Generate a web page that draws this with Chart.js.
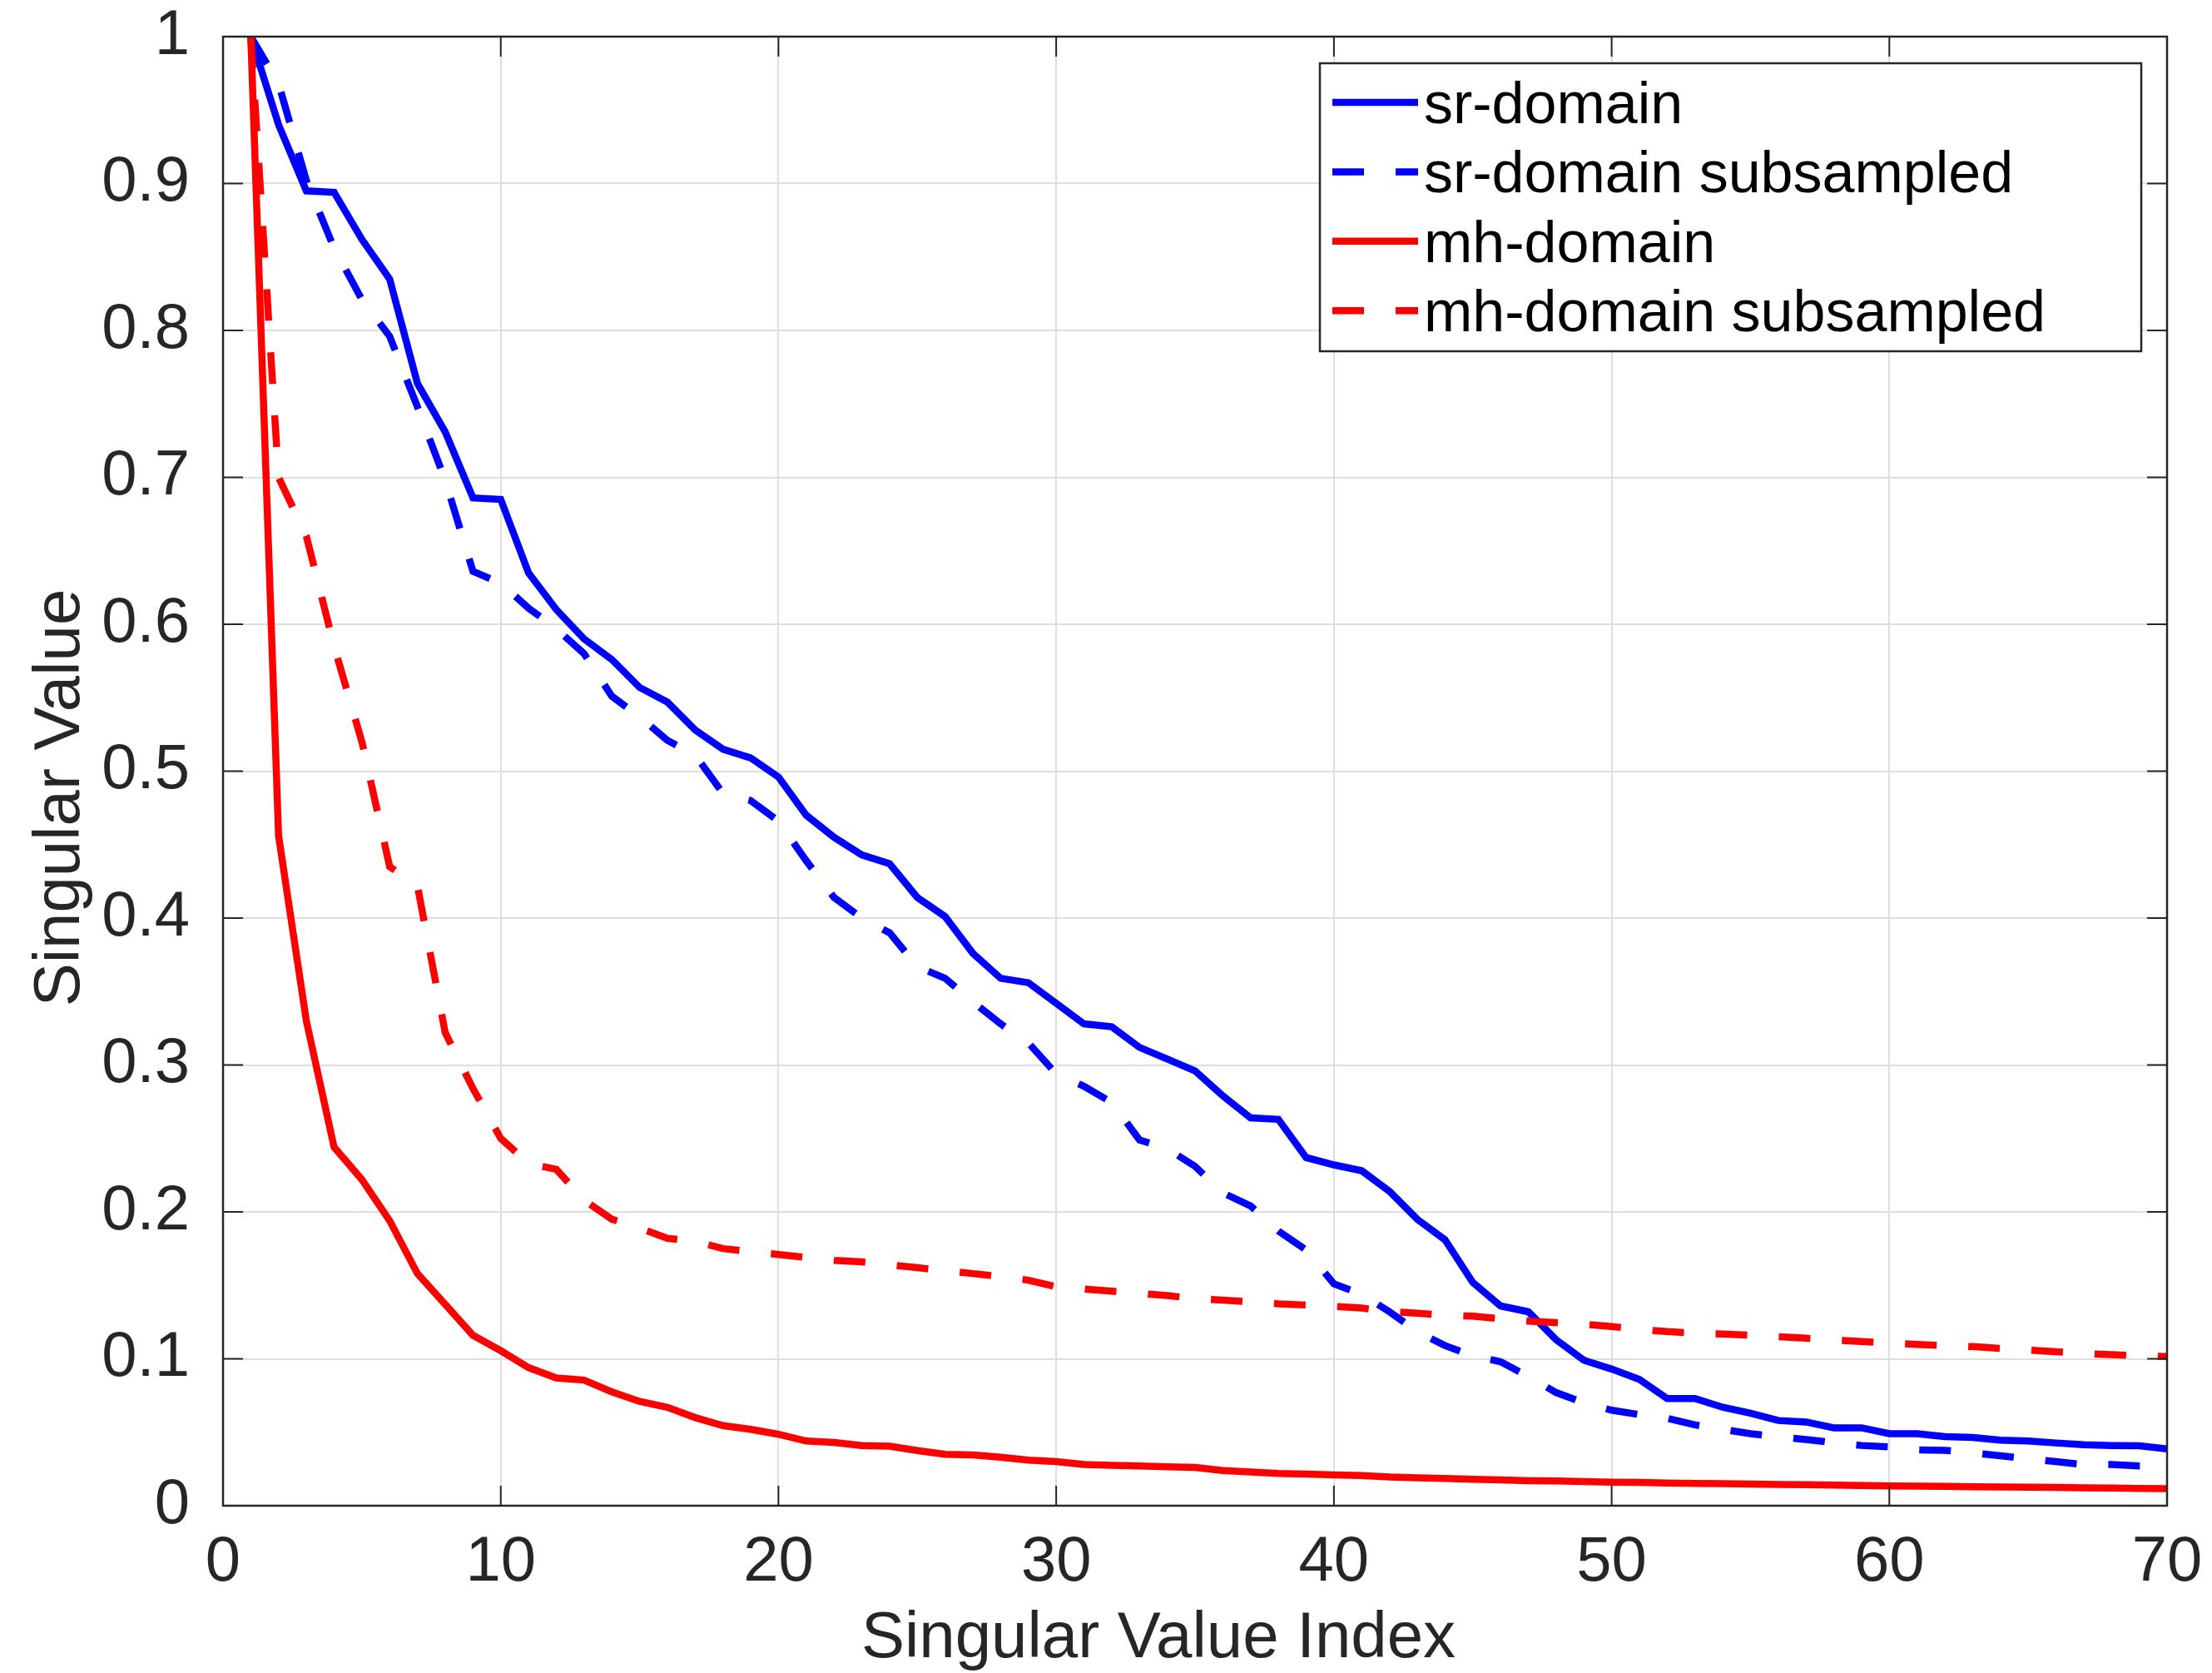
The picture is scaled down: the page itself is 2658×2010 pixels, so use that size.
<!DOCTYPE html>
<html>
<head>
<meta charset="utf-8">
<script src="https://cdn.jsdelivr.net/npm/chart.js@4"></script>
<style>
  body { margin: 0; background: #fff; }
  canvas { display: block; }
</style>
</head>
<body>
<canvas id="svChart" width="2658" height="2010"></canvas>
<script>
// Singular value index (x axis categories)
const svIndex = [1, 2, 3, 4, 5, 6, 7, 8, 9, 10, 11, 12, 13, 14, 15, 16, 17, 18, 19, 20,
  21, 22, 23, 24, 25, 26, 27, 28, 29, 30, 31, 32, 33, 34, 35, 36, 37, 38, 39, 40,
  41, 42, 43, 44, 45, 46, 47, 48, 49, 50, 51, 52, 53, 54, 55, 56, 57, 58, 59, 60,
  61, 62, 63, 64, 65, 66, 67, 68, 69, 70];

// Series values
const srDomain = [1.0, 0.940, 0.895, 0.894, 0.862, 0.835, 0.764, 0.731, 0.686, 0.685,
  0.635, 0.610, 0.590, 0.576, 0.557, 0.547, 0.528, 0.515, 0.509, 0.496,
  0.470, 0.455, 0.443, 0.437, 0.414, 0.401, 0.376, 0.359, 0.356, 0.342,
  0.328, 0.326, 0.312, 0.304, 0.296, 0.279, 0.264, 0.263, 0.237, 0.232,
  0.228, 0.214, 0.195, 0.181, 0.152, 0.136, 0.132, 0.113, 0.099, 0.093,
  0.086, 0.073, 0.073, 0.067, 0.063, 0.058, 0.057, 0.053, 0.053, 0.049,
  0.049, 0.047, 0.0465, 0.0446, 0.044, 0.0427, 0.0415, 0.041, 0.0408, 0.0387];

const srDomainSub = [1.0, 0.968, 0.902, 0.856, 0.821, 0.796, 0.748, 0.698, 0.636, 0.628,
  0.611, 0.597, 0.580, 0.551, 0.537, 0.521, 0.511, 0.485, 0.480, 0.466,
  0.439, 0.414, 0.400, 0.390, 0.367, 0.359, 0.343, 0.328, 0.315, 0.294,
  0.2855, 0.2745, 0.249, 0.243, 0.231, 0.213, 0.204, 0.187, 0.174, 0.151,
  0.144, 0.132, 0.1185, 0.109, 0.102, 0.098, 0.088, 0.077, 0.070, 0.065,
  0.062, 0.0595, 0.055, 0.052, 0.049, 0.047, 0.045, 0.043, 0.041, 0.040,
  0.038, 0.0377, 0.036, 0.034, 0.032, 0.030, 0.028, 0.028, 0.027, 0.027];

const mhDomain = [1.0, 0.456, 0.330, 0.244, 0.222, 0.194, 0.158, 0.137, 0.116, 0.1055,
  0.094, 0.087, 0.0855, 0.0775, 0.071, 0.067, 0.060, 0.0545, 0.052, 0.0486,
  0.044, 0.043, 0.041, 0.0405, 0.0375, 0.035, 0.0345, 0.033, 0.031, 0.030,
  0.028, 0.0275, 0.027, 0.0265, 0.026, 0.024, 0.023, 0.022, 0.0215, 0.021,
  0.0205, 0.0195, 0.019, 0.0185, 0.018, 0.0175, 0.017, 0.0168, 0.0165, 0.016,
  0.0158, 0.0155, 0.0152, 0.015, 0.0147, 0.0145, 0.0143, 0.014, 0.0138, 0.0135,
  0.0133, 0.0132, 0.0129, 0.0128, 0.0126, 0.0124, 0.0122, 0.012, 0.0118, 0.0116];

const mhDomainSub = [1.0, 0.700, 0.660, 0.585, 0.520, 0.435, 0.422, 0.322, 0.284, 0.250,
  0.233, 0.229, 0.208, 0.195, 0.189, 0.182, 0.180, 0.175, 0.173, 0.171,
  0.169, 0.167, 0.166, 0.164, 0.162, 0.160, 0.158, 0.156, 0.1535, 0.149,
  0.1475, 0.146, 0.1445, 0.143, 0.141, 0.140, 0.1388, 0.1374, 0.1366, 0.1357,
  0.1345, 0.1322, 0.131, 0.1297, 0.129, 0.1272, 0.1257, 0.1246, 0.1235, 0.122,
  0.120, 0.1185, 0.1175, 0.1168, 0.116, 0.115, 0.114, 0.1128, 0.1118, 0.1108,
  0.1098, 0.109, 0.1083, 0.107, 0.106, 0.1048, 0.1036, 0.1028, 0.102, 0.1015];

const seriesLabels = ['sr-domain', 'sr-domain subsampled', 'mh-domain', 'mh-domain subsampled'];

// Turn a value list into {x, y} points on the index
function toPoints(values) {
    return values.map((v, i) => ({ x: svIndex[i], y: v }));
}

const DASH = [38, 38];
const textColor = '#262626';
// where the axes box should land on the 2658x2010 canvas
const plotBox = { left: 268, top: 44, right: 2604, bottom: 1809 };

Chart.defaults.font.family = '"Liberation Sans", Arial, Helvetica, sans-serif';

// MATLAB style box, inward ticks and a boxed legend in the top right
const matlabAxes = {
    id: 'matlabAxes',
    afterDatasetsDraw(chart) {
        const { ctx, chartArea: a, scales: { x, y } } = chart;
        const tickLen = 24;
        ctx.save();

        ctx.strokeStyle = textColor;
        ctx.lineWidth = 2;
        ctx.beginPath();
        x.ticks.forEach(t => {
            const px = x.getPixelForValue(t.value);
            ctx.moveTo(px, a.bottom); ctx.lineTo(px, a.bottom - tickLen);
            ctx.moveTo(px, a.top); ctx.lineTo(px, a.top + tickLen);
        });
        y.ticks.forEach(t => {
            const py = y.getPixelForValue(t.value);
            ctx.moveTo(a.left, py); ctx.lineTo(a.left + tickLen, py);
            ctx.moveTo(a.right, py); ctx.lineTo(a.right - tickLen, py);
        });
        ctx.stroke();

        ctx.lineWidth = 2.5;
        ctx.strokeRect(a.left, a.top, a.right - a.left, a.bottom - a.top);

        // legend
        const box = { left: 1586, top: 76, right: 2573, bottom: 422 };
        ctx.fillStyle = '#ffffff';
        ctx.fillRect(box.left, box.top, box.right - box.left, box.bottom - box.top);
        ctx.strokeStyle = textColor;
        ctx.lineWidth = 2.5;
        ctx.strokeRect(box.left, box.top, box.right - box.left, box.bottom - box.top);

        const rowTop = 123;
        const rowStep = 83.4;
        ctx.font = '70px "Liberation Sans", Arial, sans-serif';
        ctx.textAlign = 'left';
        ctx.textBaseline = 'alphabetic';
        chart.data.datasets.forEach((ds, i) => {
            const cy = rowTop + i * rowStep;
            ctx.strokeStyle = ds.borderColor;
            ctx.lineWidth = 8.5;
            ctx.lineCap = 'butt';
            ctx.setLineDash(ds.borderDash || []);
            ctx.beginPath();
            ctx.moveTo(1601, cy);
            ctx.lineTo(1704, cy);
            ctx.stroke();
            ctx.setLineDash([]);
            ctx.fillStyle = '#000000';
            ctx.fillText(ds.label, 1711, cy + 25);
        });

        ctx.restore();
    }
};

const chart = new Chart(document.getElementById('svChart').getContext('2d'), {
    type: 'line',
    data: {
        datasets: [
            { label: seriesLabels[0], data: toPoints(srDomain), borderColor: '#0000ff', order: 4 },
            { label: seriesLabels[1], data: toPoints(srDomainSub), borderColor: '#0000ff', borderDash: DASH, order: 3 },
            { label: seriesLabels[2], data: toPoints(mhDomain), borderColor: '#ff0000', order: 2 },
            { label: seriesLabels[3], data: toPoints(mhDomainSub), borderColor: '#ff0000', borderDash: DASH, order: 1 }
        ]
    },
    options: {
        responsive: false,
        animation: false,
        devicePixelRatio: 1,
        layout: { padding: { top: plotBox.top, right: 2658 - plotBox.right, left: 0, bottom: 0 } },
        elements: {
            point: { radius: 0, hoverRadius: 0 },
            line: { borderWidth: 8.5, tension: 0, fill: false, borderCapStyle: 'butt', borderJoinStyle: 'miter' }
        },
        plugins: {
            legend: { display: false },
            tooltip: { enabled: false }
        },
        scales: {
            x: {
                type: 'linear',
                min: 0,
                max: 70,
                afterFit: scale => {
                    scale.height = 2010 - plotBox.bottom;
                    scale.paddingLeft = 0;
                    scale.paddingRight = 0;
                },
                border: { display: false },
                grid: { color: '#dedede', lineWidth: 2, drawTicks: false },
                ticks: {
                    stepSize: 10,
                    padding: 31,
                    color: textColor,
                    font: { size: 76, lineHeight: 1 }
                },
                title: {
                    display: true,
                    text: 'Singular Value Index',
                    color: textColor,
                    font: { size: 78, lineHeight: 1 },
                    padding: { top: 0, bottom: 2 }
                }
            },
            y: {
                min: 0,
                max: 1,
                afterFit: scale => {
                    scale.width = plotBox.left;
                    scale.paddingTop = 0;
                    scale.paddingBottom = 0;
                },
                border: { display: false },
                grid: { color: '#dedede', lineWidth: 2, drawTicks: false },
                ticks: {
                    stepSize: 0.1,
                    padding: 40,
                    color: textColor,
                    font: { size: 76, lineHeight: 1 },
                    callback: v => String(Math.round(v * 10) / 10)
                },
                title: {
                    display: true,
                    text: 'Singular Value',
                    color: textColor,
                    font: { size: 78, lineHeight: 1 },
                    padding: { top: 34, bottom: 0 }
                }
            }
        }
    },
    plugins: [matlabAxes]
});

// the axis titles in the figure sit a little off centre
function shiftTitle(scale, dx, dy) {
    const drawTitle = scale.drawTitle;
    scale.drawTitle = function () {
        this.ctx.save();
        this.ctx.translate(dx, dy);
        drawTitle.call(this);
        this.ctx.restore();
    };
}
shiftTitle(chart.scales.x, -44, 0);
shiftTitle(chart.scales.y, 0, 32);

// nudge the layout padding so the axes box lands where it should
const ca = chart.chartArea;
const pad = chart.options.layout.padding;
pad.top += plotBox.top - ca.top;
pad.right += ca.right - plotBox.right;
chart.update();
</script>
</body>
</html>
